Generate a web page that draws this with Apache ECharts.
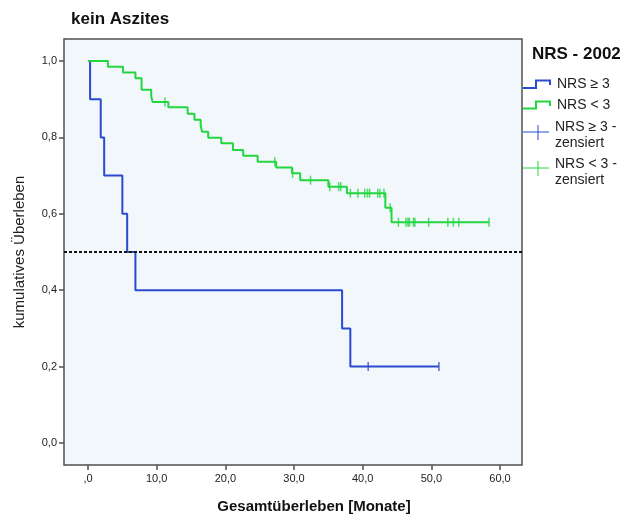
<!DOCTYPE html>
<html>
<head>
<meta charset="utf-8">
<script src="https://cdn.jsdelivr.net/npm/echarts@6/dist/echarts.min.js"></script>
<style>html,body{margin:0;padding:0;background:#fff}#c{width:635px;height:520px}</style>
</head>
<body>
<div id="c"></div>
<script>
// ---- data ----
const chartTitle = 'kein Aszites';
const xTitle = 'Gesamtüberleben [Monate]';
const yTitle = 'kumulatives Überleben';
const legendTitle = 'NRS - 2002';
const seriesNames = ['NRS ≥ 3', 'NRS < 3', 'NRS ≥ 3 - zensiert', 'NRS < 3 - zensiert'];
const xTicks = [0, 10, 20, 30, 40, 50, 60];
const yTicks = [0, 0.2, 0.4, 0.6, 0.8, 1.0];
const medianLine = 0.5;
// events: [time, survival after the drop]
const blueEvents = [[0.3,0.9],[1.85,0.8],[2.35,0.7],[5.0,0.6],[5.7,0.5],[6.9,0.4],[37.0,0.3],[38.2,0.2]];
const blueCensored = [40.8, 51.1];
const greenEvents = [[2.9,0.985],[5.1,0.970],[6.9,0.955],[7.8,0.925],[9.2,0.908],[9.4,0.893],[11.7,0.879],
  [14.5,0.862],[15.5,0.846],[16.4,0.832],[16.6,0.815],[17.5,0.799],[19.4,0.785],[21.1,0.767],[22.6,0.752],
  [24.7,0.736],[27.4,0.721],[29.7,0.706],[30.9,0.688],[35.0,0.671],[37.7,0.654],[43.3,0.616],[44.2,0.578]];
const greenCensored = [11.2,27.2,29.8,32.4,35.2,36.5,36.8,38.2,39.3,40.3,40.7,41.0,42.2,42.5,43.1,44.0,
  45.2,46.3,46.6,46.8,47.4,47.6,49.6,52.4,53.2,54.0,58.4];

const BLUE = '#2A4ACF', GREEN = '#22D640';
const FONT = 'Liberation Sans, Arial, sans-serif';

function stepPoints(events, censored) {
  const pts = [[0, 1]];
  let prev = 1;
  events.forEach(([t, s]) => { pts.push([t, prev]); pts.push([t, s]); prev = s; });
  const end = Math.max(events[events.length-1][0], ...censored);
  pts.push([end, prev]);
  return pts;
}
function survAt(events, t) {
  let s = 1;
  events.forEach(([et, es]) => { if (et <= t) s = es; });
  return s;
}
function censorPts(events, censored) { return censored.map(t => [t, survAt(events, t)]); }

const fmt = v => v.toFixed(1).replace('.', ',');

const chart = echarts.init(document.getElementById('c'), null, {renderer: 'canvas'});
const legendX = 523;
const option = {
  backgroundColor: '#fff',
  animation: false,
  title: {text: chartTitle, left: 66, top: 6, textStyle: {fontFamily: FONT, fontSize: 17, fontWeight: 'bold', color: '#111'}},
  grid: {left: 64, top: 39, right: 113, bottom: 55, show: true, backgroundColor: '#F2F7FC', borderColor: '#505050', borderWidth: 1.5},
  xAxis: {
    type: 'value', min: -3.5, max: 63.2,
    axisLine: {show: false, onZero: false}, splitLine: {show: false},
    axisTick: {show: true, length: 5, customValues: xTicks, lineStyle: {color: '#505050', width: 1.5}},
    axisLabel: {customValues: xTicks, formatter: v => v === 0 ? ',0' : fmt(v), fontFamily: FONT, fontSize: 11, color: '#222', margin: 8}
  },
  yAxis: {
    type: 'value', min: -0.0576, max: 1.0576,
    name: yTitle, nameLocation: 'middle', nameGap: 37, nameRotate: 90,
    nameTextStyle: {fontFamily: FONT, fontSize: 15, color: '#222'},
    axisLine: {show: false, onZero: false}, splitLine: {show: false},
    axisTick: {show: true, length: 5, customValues: yTicks, lineStyle: {color: '#505050', width: 1.5}},
    axisLabel: {customValues: yTicks, formatter: v => fmt(v), fontFamily: FONT, fontSize: 11, color: '#222', margin: 7}
  },
  series: [
    {name: seriesNames[0], type: 'line', data: stepPoints(blueEvents, blueCensored), showSymbol: false, symbol: 'none',
     lineStyle: {color: BLUE, width: 2}, z: 3,
     markLine: {silent: true, symbol: ['none','none'], label: {show: false}, data: [{yAxis: medianLine}],
       lineStyle: {color: '#111', type: [3, 2], width: 2}}},
    {name: seriesNames[1], type: 'line', data: stepPoints(greenEvents, greenCensored), showSymbol: false, symbol: 'none',
     lineStyle: {color: GREEN, width: 2}, z: 3},
    {name: seriesNames[2], type: 'scatter', data: censorPts(blueEvents, blueCensored), symbol: 'rect', symbolSize: [1.5, 9],
     itemStyle: {color: BLUE}, z: 4},
    {name: seriesNames[3], type: 'scatter', data: censorPts(greenEvents, greenCensored), symbol: 'rect', symbolSize: [1.5, 9],
     itemStyle: {color: GREEN}, z: 4}
  ],
  graphic: [
    {type: 'text', x: 314, y: 507, style: {text: xTitle, font: 'bold 15px ' + FONT, fill: '#111', textAlign: 'center', textVerticalAlign: 'middle'}},
    {type: 'text', left: 532, top: 46, style: {text: legendTitle, font: 'bold 17px ' + FONT, fill: '#111'}},
    {type: 'polyline', shape: {points: [[legendX,88],[536,88],[536,80.5],[550,80.5],[550,85]]}, style: {stroke: BLUE, lineWidth: 2, fill: null}},
    {type: 'text', left: 557, top: 77, style: {text: seriesNames[0], font: '14px ' + FONT, fill: '#222'}},
    {type: 'polyline', shape: {points: [[legendX,108.5],[536,108.5],[536,101.5],[550,101.5],[550,106]]}, style: {stroke: GREEN, lineWidth: 2, fill: null}},
    {type: 'text', left: 557, top: 98, style: {text: seriesNames[1], font: '14px ' + FONT, fill: '#222'}},
    {type: 'line', shape: {x1: legendX, y1: 132, x2: 549, y2: 132}, style: {stroke: BLUE, lineWidth: 1}},
    {type: 'line', shape: {x1: 538, y1: 125, x2: 538, y2: 140}, style: {stroke: BLUE, lineWidth: 1}},
    {type: 'text', left: 555, top: 119, style: {text: 'NRS ≥ 3 -\nzensiert', font: '14px ' + FONT, fill: '#222', lineHeight: 16}},
    {type: 'line', shape: {x1: legendX, y1: 168, x2: 549, y2: 168}, style: {stroke: GREEN, lineWidth: 1}},
    {type: 'line', shape: {x1: 538, y1: 161, x2: 538, y2: 176}, style: {stroke: GREEN, lineWidth: 1}},
    {type: 'text', left: 555, top: 156, style: {text: 'NRS < 3 -\nzensiert', font: '14px ' + FONT, fill: '#222', lineHeight: 16}}
  ]
};
chart.setOption(option);
</script>
</body>
</html>
